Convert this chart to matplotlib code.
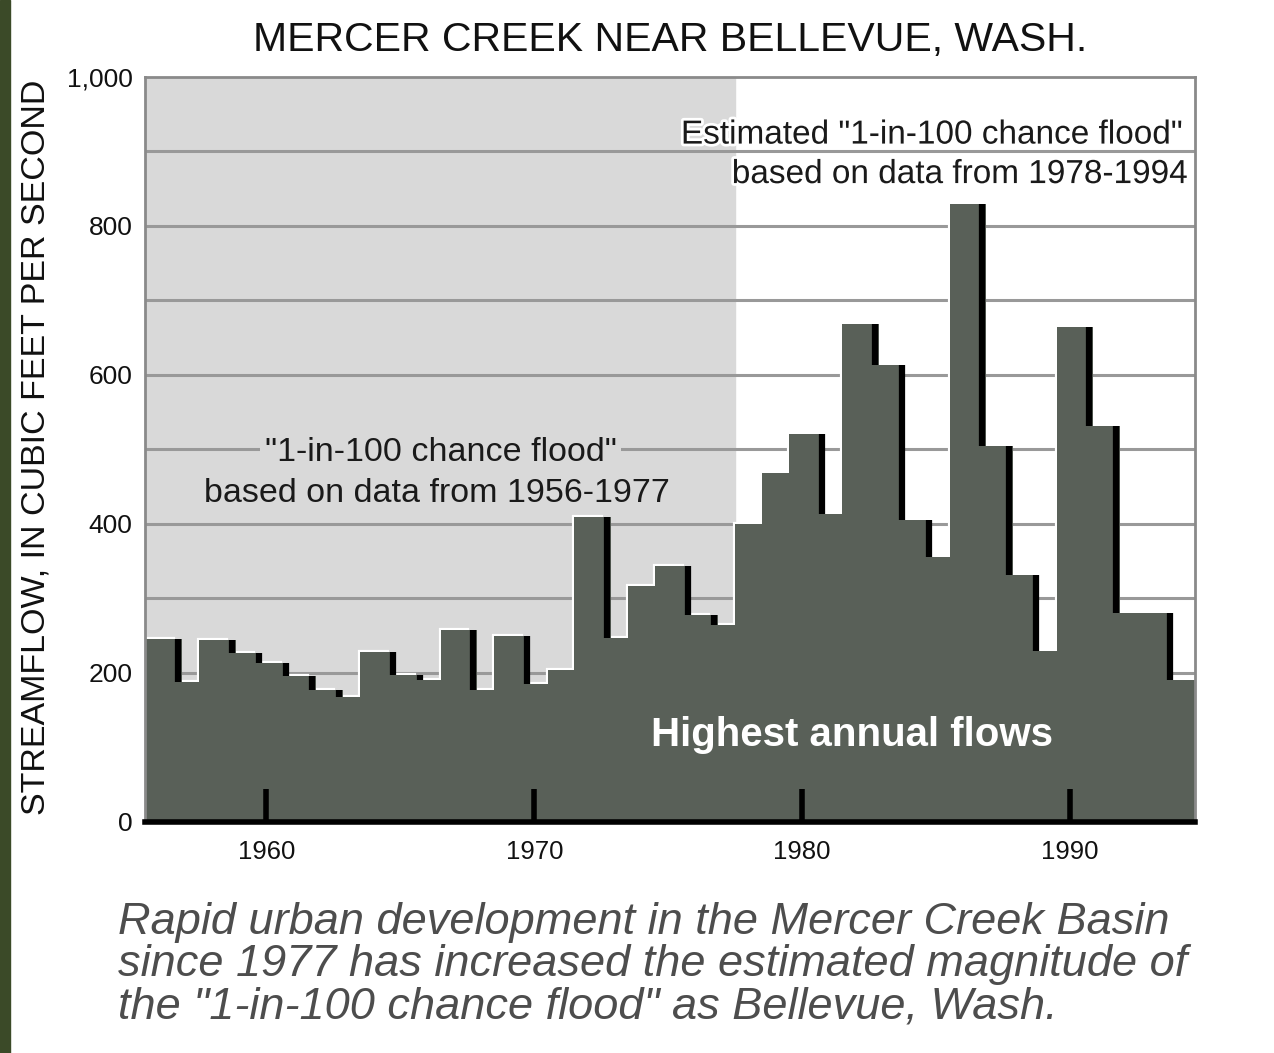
import numpy as np
import matplotlib
matplotlib.use('Agg')
import matplotlib.pyplot as plt
import matplotlib.patheffects as pe

# highest annual flow for each water year, cfs
years = list(range(1956, 1995))
flows = [245, 188, 244, 227, 214, 196, 177, 168, 228, 197,
         190, 258, 177, 250, 185, 204, 409, 247, 317, 344,
         278, 265, 400, 468, 521, 414, 669, 614, 406, 355,
         829, 504, 332, 229, 664, 532, 281, 281, 191]

old_period = (1956, 1977)
ticks_x = [1960, 1970, 1980, 1990]
ticks_y = [0, 200, 400, 600, 800, 1000]
ticklabels_y = ['0', '200', '400', '600', '800', '1,000']
grid_y = [100, 200, 300, 400, 500, 600, 700, 800, 900]

bar_col = '#596058'
shade_col = '#d9d9d9'
sans = ['Liberation Sans', 'DejaVu Sans']

fig = plt.figure(figsize=(12.74, 10.53), dpi=100)
fig.patches.append(plt.Rectangle((0, 0), 0.008, 1, transform=fig.transFigure,
                                 color='#3b4a28', zorder=-1))
ax = fig.add_axes([0.1138, 0.2194, 0.938 - 0.1138, 0.9269 - 0.2194])

x0, x1 = 1955.47, 1994.66
ax.set_xlim(x0, x1)
ax.set_ylim(0, 1000)

# shaded record period used for the old estimate
ax.axvspan(x0, old_period[1] + 0.5, color=shade_col, zorder=0)

for g in grid_y:
    ax.axhline(g, color='#999999', lw=2.2, zorder=0.8)

yrs = np.array(years, dtype=float)
edges = np.append(yrs - 0.5, yrs[-1] + 0.5)
f = np.array(flows, dtype=float)

# white halo, drop shadow, then the steps
ax.stairs(f, edges, fill=False, color='white', lw=3, zorder=1)
ax.stairs(f, edges + 0.35, fill=True, color=bar_col, zorder=1.1)
ax.stairs(f, edges, fill=True, color=bar_col, zorder=1.2)
for i in range(len(f) - 1):
    if f[i] > f[i + 1]:
        ax.vlines(edges[i + 1] + 0.22, f[i + 1], f[i], color='black', lw=4.5, zorder=1.3)

# spines
for s in ['left', 'top', 'right']:
    ax.spines[s].set_color('#8a8a8a')
    ax.spines[s].set_linewidth(2)
ax.spines['bottom'].set_color('black')
ax.spines['bottom'].set_linewidth(4)
ax.spines['bottom'].set_zorder(3)

ax.set_xticks(ticks_x)
ax.set_xticklabels([str(t) for t in ticks_x], family=sans, fontsize=18.5, color='#111111')
ax.tick_params(axis='x', direction='in', length=24, width=4, color='black', pad=13)
ax.set_yticks(ticks_y)
ax.set_yticklabels(ticklabels_y, family=sans, fontsize=19, color='#111111')
ax.tick_params(axis='y', length=0, pad=9)

# annotations
halo = [pe.withStroke(linewidth=4, foreground='white')]
ax.text(1994.2, 922, 'Estimated "1-in-100 chance flood"', ha='right', va='center',
        family=sans, fontsize=24, color='#1a1a1a', path_effects=halo, zorder=4)
ax.text(1994.4, 869, 'based on data from 1978-1994', ha='right', va='center',
        family=sans, fontsize=24, color='#1a1a1a', path_effects=halo, zorder=4)
ax.text(1966.5, 496, '"1-in-100 chance flood"', ha='center', va='center',
        family=sans, fontsize=24.5, color='#1a1a1a', zorder=4,
        bbox=dict(facecolor=shade_col, edgecolor='none', pad=3))
ax.text(1966.36, 441, 'based on data from 1956-1977', ha='center', va='center',
        family=sans, fontsize=24.5, color='#1a1a1a', zorder=4)
ax.text(1981.87, 117, 'Highest annual flows', ha='center', va='center',
        family=sans, fontsize=29, fontweight='bold', color='white', zorder=4)

fig.text(0.526, 0.962, 'MERCER CREEK NEAR BELLEVUE, WASH.', ha='center', va='center',
         family=sans, fontsize=29.5, color='#111111')
fig.text(0.028, 0.575, 'STREAMFLOW, IN CUBIC FEET PER SECOND', ha='center', va='center',
         rotation=90, family=sans, fontsize=24.5, color='#111111')
fig.text(0.0926, 0.0838,
         'Rapid urban development in the Mercer Creek Basin\n'
         'since 1977 has increased the estimated magnitude of\n'
         'the "1-in-100 chance flood" as Bellevue, Wash.',
         ha='left', va='center', family=sans, style='italic', fontsize=32.5,
         color='#4d4d4d', linespacing=1.04)

fig.savefig('out.png', dpi=100)
